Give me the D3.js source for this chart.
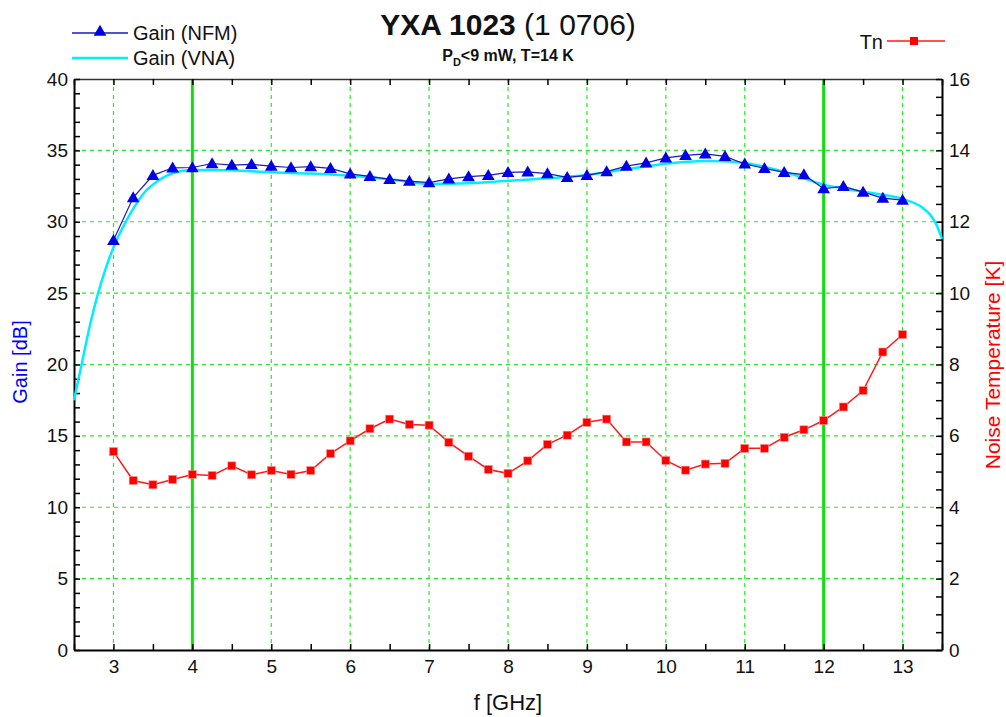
<!DOCTYPE html>
<html>
<head>
<meta charset="utf-8">
<style>
    body { margin: 0; background: #fff; }
    svg { font-family: "Liberation Sans", Arial, sans-serif; }
</style>
</head>
<body>
<svg width="1006" height="717"></svg>
<script src="https://d3js.org/d3.v7.min.js"></script>
<script>

    // measured frequencies (GHz), every 0.25 from 3 to 13
    var freqs = [3, 3.25, 3.5, 3.75, 4, 4.25, 4.5, 4.75, 5, 5.25, 5.5, 5.75, 6, 6.25, 6.5, 6.75, 7,
        7.25, 7.5, 7.75, 8, 8.25, 8.5, 8.75, 9, 9.25, 9.5, 9.75, 10, 10.25, 10.5, 10.75, 11,
        11.25, 11.5, 11.75, 12, 12.25, 12.5, 12.75, 13];

    // gain from noise figure meter [dB]
    var gainNFM = [28.7, 31.7, 33.25, 33.78, 33.8, 34.08, 33.97, 34.02, 33.9, 33.8, 33.86, 33.74, 33.35,
        33.18, 32.97, 32.85, 32.74, 33.0, 33.16, 33.25, 33.46, 33.49, 33.37, 33.11, 33.25, 33.51,
        33.9, 34.12, 34.47, 34.65, 34.75, 34.58, 34.05, 33.74, 33.46, 33.3, 32.32, 32.48, 32.08,
        31.66, 31.52];

    // noise temperature [K]
    var tn = [5.56, 4.75, 4.63, 4.78, 4.92, 4.89, 5.16, 4.91, 5.03, 4.92, 5.03, 5.5, 5.86, 6.2, 6.47,
        6.32, 6.3, 5.82, 5.43, 5.06, 4.95, 5.3, 5.76, 6.02, 6.38, 6.47, 5.83, 5.83, 5.31, 5.04,
        5.21, 5.23, 5.65, 5.65, 5.96, 6.17, 6.43, 6.81, 7.27, 8.35, 8.84];

    // gain from VNA [dB]
    var vnaFreq = [2.5, 2.6, 2.7, 2.8, 2.9, 3.0, 3.1, 3.25, 3.4, 3.5, 3.6, 3.75, 4.0, 4.5, 5.0, 5.5, 6.0,
        6.5, 7.0, 7.5, 8.0, 8.5, 9.0, 9.5, 10.0, 10.5, 10.75, 11.0, 11.5, 12.0, 12.5, 13.0, 13.25,
        13.35, 13.42, 13.5];
    var vnaGain = [17.5, 20.1, 22.7, 24.9, 26.7, 28.2, 29.4, 30.9, 32.1, 32.6, 33.0, 33.4, 33.63, 33.6,
        33.46, 33.38, 33.22, 32.97, 32.65, 32.7, 32.87, 33.04, 33.27, 33.67, 34.07, 34.26, 34.24,
        34.12, 33.5, 32.6, 32.1, 31.6, 31.0, 30.5, 29.9, 28.8];

    var xTicks = [3, 4, 5, 6, 7, 8, 9, 10, 11, 12, 13];
    var gainTicks = [0, 5, 10, 15, 20, 25, 30, 35, 40];
    var tnTicks = [0, 2, 4, 6, 8, 10, 12, 14, 16];
    var bandEdges = [4, 12];

    var svg = d3.select("svg"),
        margin = { top: 79, right: 64, bottom: 67, left: 74 },
        width = 1006 - margin.left - margin.right,
        height = 717 - margin.top - margin.bottom,
        g = svg.append("g").attr("transform", "translate(" + margin.left + "," + margin.top + ")");

    var x = d3.scaleLinear().domain([2.5, 13.5]).range([0, width]);
    var y = d3.scaleLinear().domain([0, 40]).range([height, 0]);
    var y2 = d3.scaleLinear().domain([0, 16]).range([height, 0]);

    var green = "#22ee22";

    // grid
    g.selectAll(".vgrid")
        .data(xTicks.filter(d => bandEdges.indexOf(d) < 0))
        .enter().append("line")
        .attr("x1", d => x(d)).attr("x2", d => x(d))
        .attr("y1", 0).attr("y2", height)
        .attr("stroke", green).attr("stroke-width", 1.2)
        .attr("stroke-dasharray", "4,4");

    g.selectAll(".hgrid")
        .data(gainTicks.filter(d => d > 0 && d < 40))
        .enter().append("line")
        .attr("x1", 0).attr("x2", width)
        .attr("y1", d => y(d)).attr("y2", d => y(d))
        .attr("stroke", green).attr("stroke-width", 1.2)
        .attr("stroke-dasharray", "4,4");

    g.selectAll(".band")
        .data(bandEdges)
        .enter().append("line")
        .attr("x1", d => x(d)).attr("x2", d => x(d))
        .attr("y1", 0).attr("y2", height)
        .attr("stroke", "#11dd11").attr("stroke-width", 3);

    // axes (ticks pointing inward)
    var minorX = d3.range(2.5, 13.51, 0.5);
    var minorY = d3.range(0, 40.1, 1);
    var minorY2 = d3.range(0, 16.1, 0.5);

    function styleAxis(sel) {
        sel.select(".domain").attr("stroke", "#000").attr("stroke-width", 2);
        sel.selectAll(".tick line").attr("stroke", "#000").attr("stroke-width", 1.5);
        sel.selectAll("text").attr("font-size", 19).attr("fill", "#111")
            .attr("font-family", "'Liberation Sans', Arial, sans-serif");
    }

    g.append("g")
        .attr("transform", "translate(0," + height + ")")
        .call(d3.axisBottom(x).tickValues(minorX).tickSize(-6).tickSizeOuter(0)
            .tickFormat(d => xTicks.indexOf(d) >= 0 ? d : ""))
        .call(styleAxis)
        .call(a => a.selectAll("text").attr("y", 6).attr("dy", "0.9em"));

    g.append("g")
        .call(d3.axisTop(x).tickValues(minorX).tickSize(-6).tickSizeOuter(0).tickFormat(""))
        .call(styleAxis)
        .call(a => a.select(".domain").attr("stroke", "#333").attr("stroke-width", 1.5));

    g.append("g")
        .call(d3.axisLeft(y).tickValues(minorY).tickSize(-6).tickSizeOuter(0)
            .tickFormat(d => gainTicks.indexOf(d) >= 0 ? d : ""))
        .call(styleAxis)
        .call(a => a.selectAll("text").attr("x", -6));

    g.append("g")
        .attr("transform", "translate(" + width + ",0)")
        .call(d3.axisRight(y2).tickValues(minorY2).tickSize(-6).tickSizeOuter(0)
            .tickFormat(d => tnTicks.indexOf(d) >= 0 ? d : ""))
        .call(styleAxis)
        .call(a => a.selectAll("text").attr("x", 7));

    // VNA gain curve
    var vna = vnaFreq.map((f, i) => [f, vnaGain[i]]);
    g.append("path")
        .datum(vna)
        .attr("fill", "none")
        .attr("stroke", "#00eeff")
        .attr("stroke-width", 2.5)
        .attr("d", d3.line().x(d => x(d[0])).y(d => y(d[1])).curve(d3.curveMonotoneX));

    // NFM gain
    var nfm = freqs.map((f, i) => [f, gainNFM[i]]);
    g.append("path")
        .datum(nfm)
        .attr("fill", "none")
        .attr("stroke", "#1a1ab8")
        .attr("stroke-width", 1.2)
        .attr("d", d3.line().x(d => x(d[0])).y(d => y(d[1])));

    var tri = d3.symbol().type(d3.symbolTriangle).size(70);
    g.selectAll(".tri")
        .data(nfm)
        .enter().append("path")
        .attr("d", tri)
        .attr("transform", d => "translate(" + x(d[0]) + "," + (y(d[1]) + 1) + ")")
        .attr("fill", "#0000e6");

    // noise temperature
    var tnData = freqs.map((f, i) => [f, tn[i]]);
    g.append("path")
        .datum(tnData)
        .attr("fill", "none")
        .attr("stroke", "#ff1a1a")
        .attr("stroke-width", 1.5)
        .attr("d", d3.line().x(d => x(d[0])).y(d => y2(d[1])));

    g.selectAll(".sq")
        .data(tnData)
        .enter().append("rect")
        .attr("x", d => x(d[0]) - 4)
        .attr("y", d => y2(d[1]) - 4)
        .attr("width", 8).attr("height", 8)
        .attr("fill", "#ff0000")
        .attr("stroke", "#ff9090").attr("stroke-width", 0.6);

    // titles
    var title = svg.append("text")
        .attr("x", 508).attr("y", 35)
        .attr("text-anchor", "middle")
        .attr("font-size", 30).attr("fill", "#111");
    title.append("tspan").attr("font-weight", "bold").text("YXA 1023");
    title.append("tspan").text(" (1 0706)");

    var sub = svg.append("text")
        .attr("x", 508).attr("y", 61)
        .attr("text-anchor", "middle")
        .attr("font-size", 16).attr("font-weight", "bold").attr("fill", "#111");
    sub.append("tspan").text("P");
    sub.append("tspan").attr("font-size", 11).attr("dy", 5).text("D");
    sub.append("tspan").attr("dy", -5).text("<9 mW, T=14 K");

    svg.append("text")
        .attr("x", x(8) + margin.left).attr("y", 710)
        .attr("text-anchor", "middle")
        .attr("font-size", 22).attr("fill", "#111")
        .text("f [GHz]");

    svg.append("text")
        .attr("transform", "translate(27,362) rotate(-90)")
        .attr("text-anchor", "middle")
        .attr("font-size", 20).attr("fill", "#0000ff")
        .text("Gain [dB]");

    svg.append("text")
        .attr("transform", "translate(1000,365) rotate(-90)")
        .attr("text-anchor", "middle")
        .attr("font-size", 21).attr("fill", "#ff0000")
        .text("Noise Temperature [K]");

    // legends
    var leg = svg.append("g");
    leg.append("line").attr("x1", 72).attr("x2", 128).attr("y1", 33).attr("y2", 33)
        .attr("stroke", "#1a1ab8").attr("stroke-width", 1.5);
    leg.append("path").attr("d", tri)
        .attr("transform", "translate(100,32)").attr("fill", "#0000e6");
    leg.append("text").attr("x", 133).attr("y", 40).attr("font-size", 20).attr("fill", "#111")
        .text("Gain (NFM)");

    leg.append("line").attr("x1", 72).attr("x2", 128).attr("y1", 58).attr("y2", 58)
        .attr("stroke", "#00eeff").attr("stroke-width", 2.5);
    leg.append("text").attr("x", 133).attr("y", 65).attr("font-size", 20).attr("fill", "#111")
        .text("Gain (VNA)");

    leg.append("text").attr("x", 883).attr("y", 49).attr("text-anchor", "end")
        .attr("font-size", 20).attr("fill", "#111").text("Tn");
    leg.append("line").attr("x1", 887).attr("x2", 945).attr("y1", 41).attr("y2", 41)
        .attr("stroke", "#ff1a1a").attr("stroke-width", 1.5);
    leg.append("rect").attr("x", 910).attr("y", 37).attr("width", 8).attr("height", 8)
        .attr("fill", "#ff0000");

</script>
</body>
</html>
